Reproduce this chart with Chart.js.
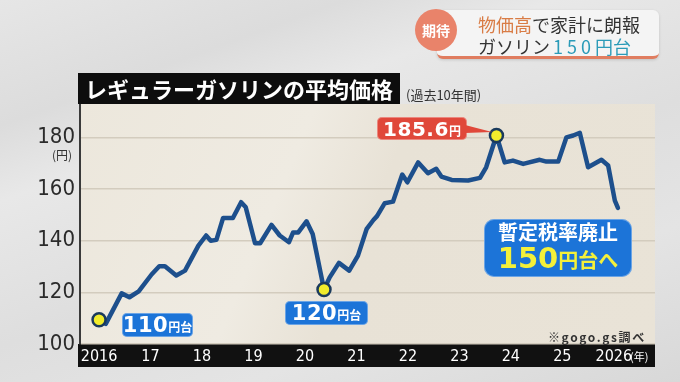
<!DOCTYPE html>
<html lang="ja">
<head>
<meta charset="utf-8">
<script src="https://cdn.jsdelivr.net/npm/chart.js@4.4.1/dist/chart.umd.min.js"></script>
<style>
  html,body{margin:0;padding:0;}
  body{width:680px;height:382px;overflow:hidden;position:relative;
    font-family:"Noto Sans CJK JP","Noto Sans",sans-serif;
    background:linear-gradient(160deg,#e6e6e6 0%,#dcdcdc 20%,#e8e8e8 32%,#dedede 55%,#e4e4e4 75%,#d8d8d8 100%);}
  #c{position:absolute;left:0;top:0;}
  .abs{position:absolute;}
  .title{left:78px;top:73px;width:322px;height:31px;background:#0d0d0d;color:#fff;
    font-weight:bold;font-size:22px;line-height:31px;text-align:center;letter-spacing:0px;}
  .sub{left:406px;top:85px;font-size:13px;color:#333;}
  .yen{left:52px;top:146px;font-size:12px;color:#333;}
  .banner{left:437px;top:10px;width:222px;height:46px;background:#f4f4f4;border-radius:6px;
    border-bottom:3px solid #e07d60;box-shadow:0 1px 3px rgba(0,0,0,0.15);}
  .circle{left:415px;top:9px;width:42px;height:42px;border-radius:50%;background:#e9836a;color:#fff;
    font-weight:bold;font-size:14px;line-height:42px;text-align:center;}
  .bl1{left:478px;top:13px;font-size:18px;line-height:22px;color:#333;white-space:nowrap;}
  .bl2{left:478px;top:35px;font-size:18px;line-height:22px;color:#333;white-space:nowrap;}
  .or{color:#d97c45;}
  .tl{color:#2b9bb8;}
  .bbox{background:#1c74d8;color:#fff;border-radius:5px;font-weight:bold;display:flex;align-items:baseline;justify-content:center;
    box-shadow:0 0 0 1px rgba(255,255,255,0.35) inset;}
  .big{font-size:21px;line-height:24px;font-family:"DejaVu Sans","Noto Sans",sans-serif;font-weight:bold;letter-spacing:0.5px;}
  .sm{font-size:12px;}
  .red{background:#e0483a;}
  .src{left:548px;top:328px;font-size:12px;color:#333;white-space:nowrap;letter-spacing:1.6px;font-weight:bold;}
  .nen{left:630px;top:348px;font-size:11px;color:#fff;}
</style>
</head>
<body>
<canvas id="c" width="680" height="382"></canvas>

<div class="abs banner"></div>
<div class="abs circle">期待</div>
<div class="abs bl1"><span class="or">物価高</span>で家計に朗報</div>
<div class="abs bl2">ガソリン<span class="tl" style="letter-spacing:4px;margin-left:3px;">150</span><span class="tl">円台</span></div>

<div class="abs title">レギュラーガソリンの平均価格</div>
<div class="abs sub">(過去10年間)</div>
<div class="abs yen">(円)</div>

<div class="abs bbox" style="left:122px;top:313px;width:71px;height:24px;"><span class="big">110</span><span class="sm">円台</span></div>
<div class="abs bbox" style="left:285px;top:301px;width:83px;height:24px;"><span class="big">120</span><span class="sm">円台</span></div>
<div class="abs bbox red" style="left:377px;top:117px;width:90px;height:23px;"><span class="big" style="font-size:20px;">185.6</span><span class="sm">円</span></div>
<svg class="abs" style="left:465px;top:120px;" width="32" height="20"><polygon points="0,5 0,13 27,12" fill="#e0483a"/></svg>
<div class="abs bbox" style="left:484px;top:219px;width:148px;height:58px;flex-direction:column;align-items:center;justify-content:center;border-radius:10px;">
  <div style="font-size:20px;line-height:23px;">暫定税率廃止</div>
  <div style="color:#f4f03a;line-height:30px;white-space:nowrap;"><span style="font-family:'DejaVu Sans',sans-serif;font-size:29px;font-weight:bold;">150</span><span style="font-size:20px;">円台へ</span></div>
</div>
<div class="abs src">※gogo.gs調べ</div>
<div class="abs nen">(年)</div>

<script>
// ---- data ----
const years = [2016.00,2016.13,2016.44,2016.59,2016.77,2017.02,2017.17,2017.28,2017.50,2017.67,
  2017.93,2018.08,2018.17,2018.28,2018.41,2018.60,2018.76,2018.85,2019.03,2019.13,
  2019.35,2019.51,2019.69,2019.77,2019.87,2020.03,2020.15,2020.37,2020.48,2020.66,
  2020.86,2021.03,2021.20,2021.33,2021.40,2021.55,2021.71,2021.89,2021.99,2022.20,
  2022.39,2022.55,2022.65,2022.85,2023.17,2023.40,2023.52,2023.72,2023.88,2024.04,
  2024.24,2024.56,2024.69,2024.92,2025.08,2025.21,2025.34,2025.50,2025.76,2025.89,
  2026.02,2026.08];
const prices = [109.4,107.8,119.6,118.1,120.4,126.9,130.1,130.1,126.5,128.4,
  138.1,142.0,140.0,140.3,148.8,148.8,154.9,152.9,139.0,139.0,
  146.1,142.0,139.4,143.2,143.2,147.5,142.6,121.1,125.8,131.4,
  128.4,134.2,144.6,148.0,149.5,154.5,155.1,165.6,162.6,170.3,
  166.1,167.8,164.8,163.5,163.3,164.3,168.4,180.7,170.3,171.0,
  169.7,171.3,170.6,170.6,180.0,180.7,181.7,168.4,171.3,169.1,
  155.5,152.7];
const markedYears = [2016.00, 2020.37, 2023.72];
const xTickValues = [2016,2017,2018,2019,2020,2021,2022,2023,2024,2025,2026];
const xTickLabels = ['2016','17','18','19','20','21','22','23','24','25','2026'];
const yTickValues = [100,120,140,160,180];

const bgPlugin = {
  id:'bg',
  beforeDraw(chart){
    const {ctx, chartArea:a} = chart;
    ctx.save();
    const g = ctx.createLinearGradient(a.left, a.top, a.right, a.bottom);
    g.addColorStop(0,'#ece7dc');
    g.addColorStop(0.35,'#efebe2');
    g.addColorStop(0.5,'#e8e2d6');
    g.addColorStop(1,'#e9e3d7');
    ctx.fillStyle = g;
    ctx.fillRect(a.left, a.top, a.right-a.left, a.bottom-a.top);
    ctx.fillStyle = '#111';
    ctx.fillRect(a.left-2, a.bottom, a.right-a.left+2, 23);
    ctx.restore();
  }
};

const condensed = "'DejaVu Sans Condensed','Liberation Sans Narrow','Liberation Sans',sans-serif";

new Chart(document.getElementById('c'), {
  type:'line',
  data:{
    datasets:[{
      data: years.map((y,i)=>({x:y, y:prices[i]})),
      borderColor:'#1d4f8c',
      borderWidth:4.5,
      tension:0,
      borderJoinStyle:'round',
      borderCapStyle:'round',
      pointRadius: ctx => markedYears.includes(years[ctx.dataIndex]) ? 6.5 : 0,
      pointBackgroundColor:'#f1ec2c',
      pointBorderColor:'#1a3a5c',
      pointBorderWidth:2.5,
      pointHoverRadius:0
    }]
  },
  plugins:[bgPlugin],
  options:{
    responsive:false,
    animation:false,
    events:[],
    layout:{padding:{left:0, top:104, right:25, bottom:15}},
    plugins:{legend:{display:false}, tooltip:{enabled:false}},
    scales:{
      x:{
        type:'linear',
        min:2015.63, max:2026.8,
        afterFit(s){ s.height = 23; },
        afterBuildTicks(s){ s.ticks = xTickValues.map(v=>({value:v})); },
        grid:{display:false, drawTicks:false},
        border:{display:false},
        ticks:{
          color:'#fff', padding:3, maxRotation:0, autoSkip:false,
          font:{family:condensed, size:16},
          callback:(v)=>{ const i = xTickValues.indexOf(v); return i>=0 ? xTickLabels[i] : ''; }
        }
      },
      y:{
        min:100, max:192.9,
        afterFit(s){ s.width = 80; },
        afterBuildTicks(s){ s.ticks = yTickValues.map(v=>({value:v})); },
        grid:{color:'#d3ccbe', lineWidth:1.5, drawTicks:false},
        border:{display:true, color:'#3a3a3a', width:2},
        ticks:{
          color:'#2b2b2b', padding:5,
          font:{family:condensed, size:22}
        }
      }
    }
  }
});
</script>
</body>
</html>
